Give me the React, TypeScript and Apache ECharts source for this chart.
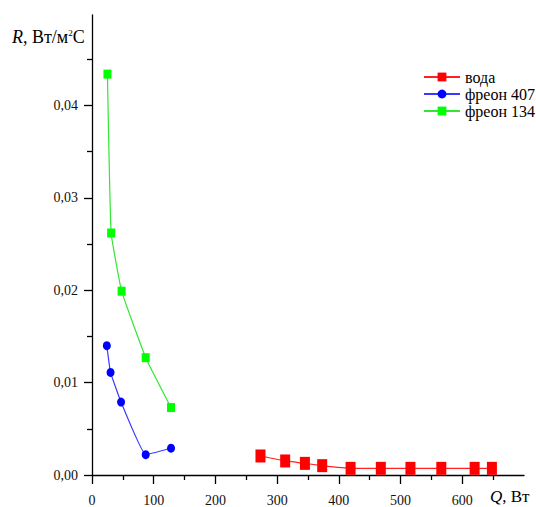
import React, { useEffect, useRef } from "react";
import * as echarts from "echarts";

const waterQ = [273, 313, 345, 373, 419, 468, 516, 566, 620, 648];
const waterR = [0.00206, 0.00152, 0.00126, 0.00101, 0.00072, 0.00072, 0.00072, 0.00072, 0.00072, 0.00072];
const f407Q = [24, 30, 47, 87, 128];
const f407R = [0.014, 0.0111, 0.0079, 0.0022, 0.0029];
const f134Q = [25, 31, 48, 87, 128];
const f134R = [0.0434, 0.0262, 0.0199, 0.0127, 0.0073];
const xMajor = [0, 100, 200, 300, 400, 500, 600];
const xMinor = [50, 150, 250, 350, 450, 550, 650];
const yMajor = [0, 0.01, 0.02, 0.03, 0.04];
const yMinor = [0.005, 0.015, 0.025, 0.035, 0.045];
const seriesNames = ["вода", "фреон 407", "фреон 134"];

const FONT = "Liberation Serif";

export default function App() {
  const ref = useRef<HTMLDivElement>(null);
  useEffect(() => {
    const chart = echarts.init(ref.current!, null, { renderer: "svg" });
    const pair = (xs: number[], ys: number[]) => xs.map((x, i) => [x, ys[i]]);
    const axisLineStyle = { color: "#000", width: 1.3 };
    const option: any = {
      animation: false,
      backgroundColor: "#fff",
      textStyle: { fontFamily: FONT },
      grid: { left: 92, top: 15, width: 432, height: 460 },
      xAxis: [
        {
          type: "value",
          min: 0,
          max: 700,
          axisLine: { onZero: false, lineStyle: axisLineStyle },
          axisTick: { customValues: xMajor, length: 9, lineStyle: axisLineStyle },
          axisLabel: {
            customValues: xMajor,
            margin: 18,
            color: "#111",
            fontFamily: FONT,
            fontSize: 14,
          },
          splitLine: { show: false },
        },
        {
          type: "value",
          position: "bottom",
          min: 0,
          max: 700,
          axisLine: { show: false },
          axisTick: { customValues: xMinor, length: 5, lineStyle: axisLineStyle },
          axisLabel: { show: false },
          splitLine: { show: false },
        },
      ],
      yAxis: [
        {
          type: "value",
          min: 0,
          max: 0.0498,
          axisLine: { show: true, onZero: false, lineStyle: axisLineStyle },
          axisTick: { show: true, customValues: yMajor, length: 8, lineStyle: axisLineStyle },
          axisLabel: {
            customValues: yMajor,
            margin: 14,
            color: "#111",
            fontFamily: FONT,
            fontSize: 14,
            formatter: (v: number) => v.toFixed(2).replace(".", ","),
          },
          splitLine: { show: false },
        },
        {
          type: "value",
          position: "left",
          min: 0,
          max: 0.0498,
          axisLine: { show: false },
          axisTick: { show: true, customValues: yMinor, length: 5, lineStyle: axisLineStyle },
          axisLabel: { show: false },
          splitLine: { show: false },
        },
      ],
      legend: {
        orient: "vertical",
        left: 418,
        top: 64,
        itemWidth: 36,
        itemHeight: 11,
        itemGap: 1,
        data: seriesNames,
        textStyle: { fontFamily: FONT, fontSize: 16, color: "#000" },
      },
      series: [
        {
          name: seriesNames[0],
          type: "line",
          data: pair(waterQ, waterR),
          symbol: "rect",
          symbolSize: [10, 13],
          smooth: 0.1,
          color: "#ff0000",
          lineStyle: { color: "#ff2020", width: 1.2 },
          itemStyle: { color: "#ff0000" },
        },
        {
          name: seriesNames[1],
          type: "line",
          data: pair(f407Q, f407R),
          symbol: "circle",
          symbolSize: [8, 9],
          smooth: 0.1,
          color: "#0000ff",
          lineStyle: { color: "#3a3aff", width: 1.2 },
          itemStyle: { color: "#0000ff" },
        },
        {
          name: seriesNames[2],
          type: "line",
          data: pair(f134Q, f134R),
          symbol: "rect",
          symbolSize: [8, 9],
          smooth: 0.1,
          color: "#00ff00",
          lineStyle: { color: "#33e633", width: 1.2 },
          itemStyle: { color: "#00ff00" },
        },
      ],
      graphic: [
        {
          type: "text",
          left: 12,
          top: 28,
          style: {
            text: "{i|R}, Вт/м{s|2}С",
            fontFamily: FONT,
            fontSize: 18,
            fill: "#000",
            rich: {
              i: { fontStyle: "italic", fontFamily: FONT, fontSize: 18 },
              s: { fontSize: 9, verticalAlign: "top", padding: [0, 0, 8, 0], fontFamily: FONT },
            },
          },
        },
        {
          type: "text",
          left: 490,
          top: 488,
          style: {
            text: "{i|Q}, Вт",
            fontFamily: FONT,
            fontSize: 17,
            fill: "#000",
            rich: {
              i: { fontStyle: "italic", fontFamily: FONT, fontSize: 17 },
            },
          },
        },
      ],
    };
    chart.setOption(option);
    return () => chart.dispose();
  }, []);
  return <div ref={ref} style={{ width: 536, height: 507, position: "absolute", left: 0, top: 0 }} />;
}
